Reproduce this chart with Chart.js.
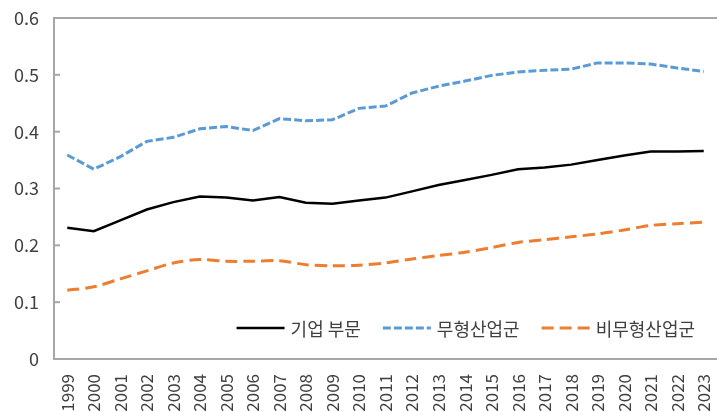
<!DOCTYPE html>
<html>
<head>
<meta charset="utf-8">
<script src="https://cdn.jsdelivr.net/npm/chart.js@4"></script>
<style>
  html, body { margin: 0; padding: 0; background: #fff; }
  #wrap { width: 717px; height: 411px; }
</style>
</head>
<body>
<div id="wrap"><canvas id="lineChart"></canvas></div>
<script>
// values
const years = ['1999', '2000', '2001', '2002', '2003', '2004', '2005', '2006', '2007', '2008', '2009', '2010', '2011',
    '2012', '2013', '2014', '2015', '2016', '2017', '2018', '2019', '2020', '2021', '2022', '2023'];
const corporate = [0.231, 0.225, 0.244, 0.263, 0.276, 0.286, 0.284, 0.279, 0.285, 0.275, 0.273, 0.279, 0.284,
    0.295, 0.306, 0.315, 0.324, 0.334, 0.337, 0.342, 0.350, 0.358, 0.365, 0.365, 0.366];
const intangible = [0.359, 0.334, 0.356, 0.383, 0.390, 0.405, 0.409, 0.402, 0.423, 0.419, 0.421, 0.441, 0.445,
    0.468, 0.480, 0.489, 0.499, 0.505, 0.508, 0.510, 0.521, 0.521, 0.519, 0.512, 0.506];
const nonIntangible = [0.121, 0.127, 0.141, 0.155, 0.169, 0.175, 0.172, 0.172, 0.173, 0.166, 0.164, 0.165, 0.169,
    0.176, 0.182, 0.188, 0.196, 0.205, 0.210, 0.215, 0.220, 0.227, 0.235, 0.238, 0.241];
const seriesNames = ['기업 부문', '무형산업군', '비무형산업군'];
const yTickLabels = ['0', '0.1', '0.2', '0.3', '0.4', '0.5', '0.6'];

const FONT = "'Noto Sans CJK KR', 'Noto Sans', sans-serif";
const axisGrey = '#a6a6a6';
const textColor = '#404040';

// top frame line and small inward ticks on the value axis
const axisExtras = {
    id: 'axisExtras',
    afterDraw(chart) {
        const { ctx, chartArea, scales } = chart;
        ctx.save();
        ctx.strokeStyle = axisGrey;
        ctx.lineWidth = 2;
        ctx.beginPath();
        ctx.moveTo(chartArea.left - 1, chartArea.top);
        ctx.lineTo(chartArea.right, chartArea.top);
        ctx.stroke();
        scales.y.ticks.forEach((t, i) => {
            const y = scales.y.getPixelForTick(i);
            ctx.beginPath();
            ctx.moveTo(chartArea.left, y);
            ctx.lineTo(chartArea.left + 6, y);
            ctx.stroke();
        });
        ctx.restore();
    }
};

// legend sitting inside the plot, near the bottom right
const insideLegend = {
    id: 'insideLegend',
    afterDatasetsDraw(chart) {
        const { ctx, chartArea } = chart;
        const lineLen = 48, textGap = 6, itemGap = 22;
        ctx.save();
        ctx.font = '18px ' + FONT;
        ctx.textBaseline = 'middle';
        const items = chart.data.datasets.map(ds => ({
            ds,
            w: lineLen + textGap + ctx.measureText(ds.label).width
        }));
        const total = items.reduce((a, it) => a + it.w, 0) + itemGap * (items.length - 1);
        let x = chartArea.right - 22 - total;
        const y = chartArea.bottom - 31;
        items.forEach(it => {
            ctx.strokeStyle = it.ds.borderColor;
            ctx.lineWidth = it.ds.borderWidth;
            ctx.setLineDash(it.ds.borderDash || []);
            ctx.beginPath();
            ctx.moveTo(x, y);
            ctx.lineTo(x + lineLen, y);
            ctx.stroke();
            ctx.setLineDash([]);
            ctx.fillStyle = textColor;
            ctx.fillText(it.ds.label, x + lineLen + textGap, y + 1);
            x += it.w + itemGap;
        });
        ctx.restore();
    }
};

new Chart(document.getElementById('lineChart').getContext('2d'), {
    type: 'line',
    data: {
        labels: years,
        datasets: [{
            label: seriesNames[0],
            data: corporate,
            borderColor: '#000000',
            borderWidth: 2.5,
            pointRadius: 0,
            tension: 0
        }, {
            label: seriesNames[1],
            data: intangible,
            borderColor: '#5b9bd5',
            borderWidth: 3,
            borderDash: [8, 3],
            pointRadius: 0,
            tension: 0
        }, {
            label: seriesNames[2],
            data: nonIntangible,
            borderColor: '#ed7d31',
            borderWidth: 3,
            borderDash: [12, 6],
            pointRadius: 0,
            tension: 0.3
        }]
    },
    options: {
        responsive: true,
        maintainAspectRatio: false,
        animation: false,
        layout: { padding: { top: 18, left: 0, right: 0, bottom: 0 } },
        plugins: {
            legend: { display: false },
            tooltip: { enabled: false }
        },
        scales: {
            x: {
                offset: true,
                grid: { display: false, drawTicks: false },
                border: { color: axisGrey, width: 2 },
                ticks: {
                    minRotation: 90,
                    maxRotation: 90,
                    autoSkip: false,
                    padding: 15,
                    color: textColor,
                    font: { family: FONT, size: 17 }
                },
                afterFit: scale => {
                    scale.height = 52;
                    scale.paddingLeft = 0;
                    scale.paddingRight = 0;
                }
            },
            y: {
                min: 0,
                max: 0.6,
                grid: { display: false, drawTicks: false },
                border: { color: axisGrey, width: 2 },
                ticks: {
                    stepSize: 0.1,
                    padding: 15,
                    color: textColor,
                    font: { family: FONT, size: 18 },
                    callback: (v, i) => yTickLabels[i]
                },
                afterFit: scale => {
                    scale.width = 54;
                    scale.paddingTop = 0;
                    scale.paddingBottom = 0;
                }
            }
        }
    },
    plugins: [axisExtras, insideLegend]
});
</script>
</body>
</html>
